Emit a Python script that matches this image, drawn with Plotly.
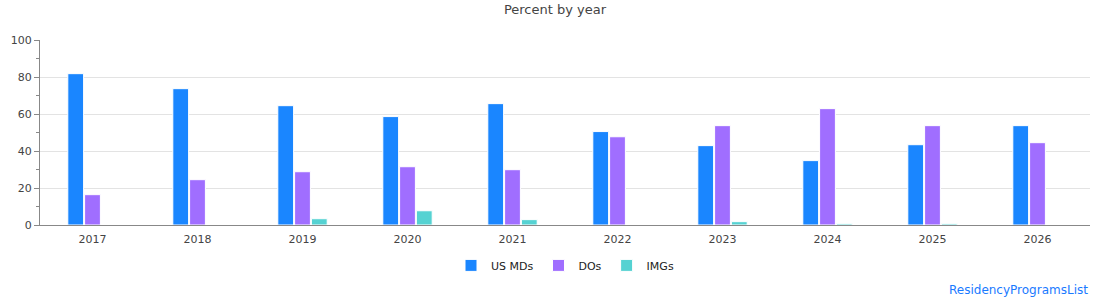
import plotly.graph_objects as go

years = ["2017", "2018", "2019", "2020", "2021", "2022", "2023", "2024", "2025", "2026"]
us_mds = [81.8, 73.7, 64.5, 58.6, 65.6, 50.5, 42.9, 34.8, 43.4, 53.7]
dos = [16.4, 24.5, 28.8, 31.5, 29.9, 47.7, 53.7, 62.9, 53.7, 44.5]
imgs = [0, 0, 3.4, 7.7, 2.9, 0, 1.8, 0.7, 0.7, 0]

series = [
    ("US MDs", us_mds, "#1a86ff"),
    ("DOs", dos, "#a06eff"),
    ("IMGs", imgs, "#55d2d2"),
]

fig = go.Figure()
for name, vals, color in series:
    fig.add_trace(go.Bar(
        x=years, y=vals, name=name,
        marker=dict(color=color, line=dict(color="white", width=1)),
    ))

fig.update_layout(
    width=1110, height=300,
    margin=dict(l=40, r=20, t=40, b=75),
    paper_bgcolor="white", plot_bgcolor="white",
    font=dict(family="DejaVu Sans", size=11, color="#444"),
    title=dict(text="Percent by year", x=0.5, xanchor="center", y=0.985, yanchor="top",
               font=dict(size=13, color="#444")),
    barmode="group", bargap=0.52, bargroupgap=0.06,
    showlegend=True,
    legend=dict(orientation="h", x=0.5, xanchor="center", y=-0.14, yanchor="top",
                font=dict(size=11, color="#222"), itemwidth=30),
    xaxis=dict(type="category", showline=True, linecolor="#888", linewidth=1,
               ticks="outside", ticklen=4, tickcolor="rgba(0,0,0,0)",
               showgrid=False, tickfont=dict(size=11, color="#444")),
    yaxis=dict(range=[0, 100], dtick=20, showline=True, linecolor="#888", linewidth=1,
               ticks="outside", ticklen=5, tickcolor="#888",
               minor=dict(dtick=10, ticks="outside", ticklen=3, tickcolor="#888", showgrid=False),
               showgrid=True, gridcolor="#e3e3e3", zeroline=False,
               tickfont=dict(size=11, color="#444")),
    annotations=[dict(text="ResidencyProgramsList", xref="paper", yref="paper",
                      x=1.0, y=-0.35, xanchor="right", yanchor="middle", showarrow=False,
                      font=dict(size=12, color="#1a7aff"))],
)

fig.write_html("out.html")
